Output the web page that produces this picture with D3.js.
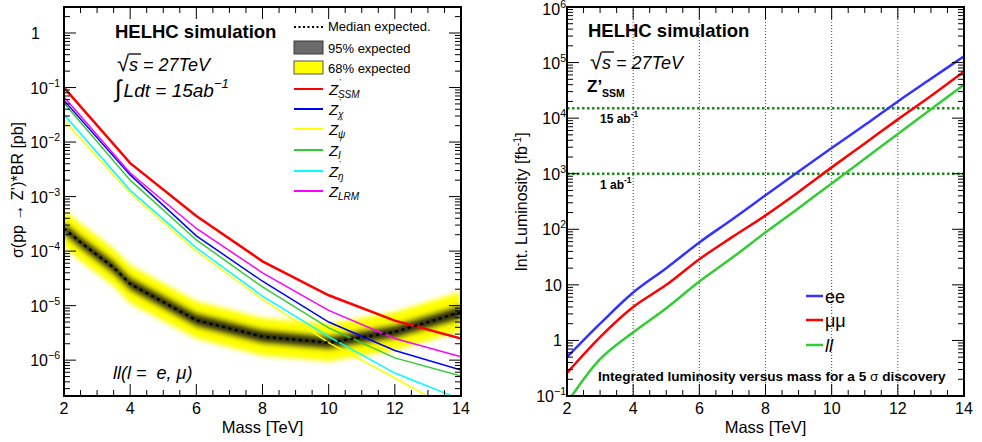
<!DOCTYPE html>
<html><head><meta charset="utf-8">
<script src="https://cdn.jsdelivr.net/npm/d3@7"></script>
<style>
body{margin:0;background:#fff}
svg{display:block}
text{font-family:"Liberation Sans",Arial,Helvetica,sans-serif;fill:#000}
</style>
</head><body>
<svg id="c" width="982" height="442"></svg>
<script>
// ---------------- DATA ----------------
// Left panel: cross-section x BR for Z' models [pb] vs mass [TeV]
const massModels = [2, 4, 6, 8, 10, 12, 14];
const zSSM = [0.1, 4.1e-3, 4.4e-4, 6.5e-5, 1.55e-5, 5.3e-6, 2.5e-6];
const zChi = [0.058, 2.5e-3, 1.9e-4, 2.8e-5, 5.0e-6, 1.5e-6, 6.6e-7];
const zPsi = [0.025, 1.15e-3, 1.0e-4, 1.3e-5, 2.1e-6, 4.7e-7, 1.0e-7];
const zI   = [0.052, 2.0e-3, 1.6e-4, 2.2e-5, 3.9e-6, 1.1e-6, 5.1e-7];
const zEta = [0.032, 1.3e-3, 1.15e-4, 1.5e-5, 2.7e-6, 5.8e-7, 1.9e-7];
const zLRM = [0.067, 2.7e-3, 2.6e-4, 4.0e-5, 8.2e-6, 2.5e-6, 1.15e-6];

// Median expected limit and bands
const massMed   = [2, 2.5, 3, 3.5, 4, 6, 8, 10, 12, 14];
const median    = [2.6e-4, 1.45e-4, 8.5e-5, 5.0e-5, 2.5e-5, 5.4e-6, 2.7e-6, 2.1e-6, 3.3e-6, 7.6e-6];
const yellowHi  = [5.7e-4, 3.2e-4, 1.9e-4, 1.1e-4, 5.5e-5, 1.2e-5, 5.9e-6, 4.6e-6, 7.6e-6, 1.8e-5];
const yellowLo  = [1.2e-4, 6.6e-5, 3.9e-5, 2.3e-5, 1.1e-5, 2.5e-6, 1.2e-6, 9.5e-7, 1.5e-6, 3.4e-6];
const darkHi    = [3.5e-4, 1.95e-4, 1.15e-4, 6.8e-5, 3.4e-5, 7.4e-6, 3.7e-6, 2.8e-6, 4.5e-6, 1.04e-5];
const darkLo    = [1.95e-4, 1.08e-4, 6.3e-5, 3.7e-5, 1.85e-5, 4.0e-6, 2.0e-6, 1.55e-6, 2.45e-6, 5.5e-6];

// Right panel: integrated luminosity for 5 sigma discovery [fb^-1]
const massLumi = [2, 3, 4, 5, 6, 7, 8, 9, 10, 11, 12, 13, 14];
const lumiEE   = [0.5, 2.0, 7.3, 20, 58, 152, 410, 1100, 2900, 7500, 2.0e4, 5.1e4, 1.3e5];
const lumiMuMu = [0.26, 1.15, 4.0, 10, 29, 73, 178, 470, 1300, 3500, 9500, 2.5e4, 6.9e4];
const lumiLL   = [0.075, 0.46, 1.4, 3.8, 11.5, 31, 88, 240, 670, 1850, 5200, 1.45e4, 4.0e4];
const lumiRefs = [15000, 1000];
const lumiRefLabels = ["15 ab", "1 ab"];

// Tick labels
const xTickVals = [2, 4, 6, 8, 10, 12, 14];
const leftYTickVals = [1, 1e-1, 1e-2, 1e-3, 1e-4, 1e-5, 1e-6];
const leftYTickBase = ["1", "10", "10", "10", "10", "10", "10"];
const leftYTickExp  = [null, "\u22121", "\u22122", "\u22123", "\u22124", "\u22125", "\u22126"];
const rightYTickVals = [0.1, 1, 10, 1e2, 1e3, 1e4, 1e5, 1e6];
const rightYTickBase = ["10", "1", "10", "10", "10", "10", "10", "10"];
const rightYTickExp  = ["\u22121", null, null, "2", "3", "4", "5", "6"];

// ---------------- DRAW ----------------
const svg = d3.select('#c');
const defs = svg.append('defs');
const f = defs.append('filter').attr('id','blur').attr('x','-5%').attr('y','-20%').attr('width','110%').attr('height','140%');
f.append('feGaussianBlur').attr('stdDeviation', 2.6);

const L = {x0:64, x1:461, y0:7, y1:396};
const R = {x0:567, x1:964, y0:7, y1:396};
defs.append('clipPath').attr('id','clipL').append('rect')
  .attr('x',L.x0).attr('y',L.y0).attr('width',L.x1-L.x0).attr('height',L.y1-L.y0);
defs.append('clipPath').attr('id','clipR').append('rect')
  .attr('x',R.x0).attr('y',R.y0).attr('width',R.x1-R.x0).attr('height',R.y1-R.y0);

const xL = d3.scaleLinear([2,14],[L.x0,L.x1]);
const yL = d3.scaleLog([2.2e-7, 3],[L.y1,L.y0]);
const xR = d3.scaleLinear([2,14],[R.x0,R.x1]);
const yR = d3.scaleLog([0.1, 1e6],[R.y1,R.y0]);

function logTicks(scale){
  const [a,b] = scale.domain();
  const out = [];
  for (let e = Math.floor(Math.log10(a)); e <= Math.ceil(Math.log10(b)); e++){
    for (let m = 1; m <= 9; m++){
      const v = m*Math.pow(10,e);
      if (v >= a*0.999 && v <= b*1.001) out.push({v, major: m===1});
    }
  }
  return out;
}

function frame(g, P, x, y){
  const xt = d3.range(2, 14.001, 0.5);
  xt.forEach(v=>{
    const major = Math.abs(v % 2) < 1e-9;
    const len = major ? 12 : 6;
    const px = x(v);
    g.append('line').attr('x1',px).attr('x2',px).attr('y1',P.y1).attr('y2',P.y1-len).attr('stroke','#000').attr('stroke-width',1);
    g.append('line').attr('x1',px).attr('x2',px).attr('y1',P.y0).attr('y2',P.y0+len).attr('stroke','#000').attr('stroke-width',1);
  });
  logTicks(y).forEach(t=>{
    const len = t.major ? 12 : 6;
    const py = y(t.v);
    g.append('line').attr('x1',P.x0).attr('x2',P.x0+len).attr('y1',py).attr('y2',py).attr('stroke','#000').attr('stroke-width',1);
    g.append('line').attr('x1',P.x1).attr('x2',P.x1-len).attr('y1',py).attr('y2',py).attr('stroke','#000').attr('stroke-width',1);
  });
  g.append('rect').attr('x',P.x0).attr('y',P.y0).attr('width',P.x1-P.x0).attr('height',P.y1-P.y0)
    .attr('fill','none').attr('stroke','#000').attr('stroke-width',2);
  xTickVals.forEach(v=>{
    g.append('text').attr('x',x(v)).attr('y',414).attr('text-anchor','middle').attr('font-size',16).text(v);
  });
  g.append('text').attr('x',(P.x0+P.x1)/2).attr('y',433).attr('text-anchor','middle').attr('font-size',16.5).text('Mass [TeV]');
}

function supLabel(g, x, y, base, sup, size){
  const t = g.append('text').attr('x',x).attr('y',y).attr('text-anchor','end').attr('font-size',size);
  t.append('tspan').text(base);
  if (sup) t.append('tspan').attr('dy',-7).attr('font-size',size*0.66).text(sup);
  return t;
}

// ================= LEFT PANEL =================
const gL = svg.append('g');
const plotL = gL.append('g').attr('clip-path','url(#clipL)');

const bandY = massMed.map((m,i)=>({m, lo:yellowLo[i], hi:yellowHi[i]}));
const bandD = massMed.map((m,i)=>({m, lo:darkLo[i], hi:darkHi[i]}));
const area = d3.area().x(d=>xL(d.m)).y0(d=>yL(d.lo)).y1(d=>yL(d.hi));
const bandG = plotL.append('g').attr('filter','url(#blur)');
bandG.append('path').datum(bandY).attr('d',area).attr('fill','#ffff00');
bandG.append('path').datum(bandD).attr('d',area).attr('fill','#1e1e08').attr('opacity',0.9);

const lineL = d3.line().x(d=>xL(d[0])).y(d=>yL(d[1]));
const models = [
  {vals:zPsi, color:'#ffff00', w:1.5, sub:'\u03c8'},
  {vals:zEta, color:'#00ffff', w:1.5, sub:'\u03b7'},
  {vals:zI,   color:'#33cc33', w:1.5, sub:'I'},
  {vals:zChi, color:'#0000ff', w:1.5, sub:'\u03c7'},
  {vals:zLRM, color:'#ff00ff', w:1.5, sub:'LRM'},
  {vals:zSSM, color:'#ff0000', w:2.5, sub:'SSM'}
];
models.forEach(mo=>{
  plotL.append('path').datum(massModels.map((m,i)=>[m, mo.vals[i]]))
    .attr('d',lineL).attr('fill','none').attr('stroke',mo.color).attr('stroke-width',mo.w);
});
plotL.append('path').datum(massMed.map((m,i)=>[m, median[i]]))
  .attr('d',lineL).attr('fill','none').attr('stroke','#000').attr('stroke-width',2.5).attr('stroke-dasharray','3,3.5');

frame(gL, L, xL, yL);
leftYTickVals.forEach((v,i)=>{
  const xx = leftYTickExp[i] ? 60 : 40;
  supLabel(gL, xx, yL(v)+6, leftYTickBase[i], leftYTickExp[i], 16);
});
gL.append('text').attr('transform','translate(23,190) rotate(-90)').attr('text-anchor','middle')
  .attr('font-size',16).text('\u03c3(pp \u2192 Z\u2019)*BR [pb]');

// texts
gL.append('text').attr('x',115).attr('y',38).attr('font-size',18.5).attr('font-weight','bold').text('HELHC simulation');
function sqrtS(g, x, y){
  const t = g.append('text').attr('x',x).attr('y',y).attr('font-size',18).attr('font-style','italic');
  t.append('tspan').attr('font-style','normal').attr('font-size',22).text('\u221a');
  t.append('tspan').text('s');
  t.append('tspan').text(' = 27TeV');
  g.append('line').attr('x1',x+12).attr('x2',x+24).attr('y1',y-17).attr('y2',y-17).attr('stroke','#000').attr('stroke-width',1.3);
}
sqrtS(gL, 117, 71);
{
  const t = gL.append('text').attr('x',115).attr('y',97).attr('font-size',19).attr('font-style','italic');
  t.append('tspan').attr('font-size',24).text('\u222b');
  t.append('tspan').attr('dx',2).text('Ldt = 15ab');
  t.append('tspan').attr('dy',-9).attr('font-size',13).text('\u22121');
}
{
  const t = gL.append('text').attr('x',113).attr('y',379).attr('font-size',18).attr('font-style','italic');
  t.attr('xml:space','preserve').text('ll(l =  e, \u03bc)');
}

// legend
const lg = gL.append('g');
lg.append('line').attr('x1',294).attr('x2',323).attr('y1',27).attr('y2',27).attr('stroke','#000').attr('stroke-width',2).attr('stroke-dasharray','2,2.5');
lg.append('text').attr('x',328).attr('y',31).attr('font-size',13).text('Median expected.');
lg.append('rect').attr('x',294).attr('y',41).attr('width',29).attr('height',13).attr('fill','#6a6a6a').attr('stroke','#3a3a3a').attr('stroke-width',1);
lg.append('text').attr('x',328).attr('y',53).attr('font-size',13).text('95% expected');
lg.append('rect').attr('x',294).attr('y',61).attr('width',29).attr('height',13).attr('fill','#ffff00').attr('stroke','#555').attr('stroke-width',1);
lg.append('text').attr('x',328).attr('y',73).attr('font-size',13).text('68% expected');
const legOrder = [5,3,0,2,1,4]; // SSM, chi, psi, I, eta, LRM
const legY = [89,109,129,150,171,191];
legOrder.forEach((k,j)=>{
  const mo = models[k];
  const y = legY[j];
  lg.append('line').attr('x1',294).attr('x2',323).attr('y1',y).attr('y2',y).attr('stroke',mo.color).attr('stroke-width',2);
  const t = lg.append('text').attr('x',329).attr('y',y+6).attr('font-size',15).attr('font-style','italic');
  t.append('tspan').text('Z');
  t.append('tspan').attr('dx',1).attr('dy',-11).attr('font-size',8).attr('font-style','normal').text('\u2019');
  t.append('tspan').attr('dx',-3).attr('dy',14).attr('font-size',10).text(mo.sub);
});

// ================= RIGHT PANEL =================
const gR = svg.append('g');
const plotR = gR.append('g').attr('clip-path','url(#clipR)');
[4,6,8,10,12].forEach(v=>{
  plotR.append('line').attr('x1',xR(v)).attr('x2',xR(v)).attr('y1',R.y0).attr('y2',R.y1)
    .attr('stroke','#333').attr('stroke-width',0.9).attr('stroke-dasharray','1,2');
});
lumiRefs.forEach((v,i)=>{
  plotR.append('line').attr('x1',R.x0).attr('x2',R.x1).attr('y1',yR(v)).attr('y2',yR(v))
    .attr('stroke','#1a8a1a').attr('stroke-width',2.5).attr('stroke-dasharray','2.5,2.5');
  const t = gR.append('text').attr('x',600).attr('y',yR(v)+15).attr('font-size',12).attr('font-weight','bold');
  t.append('tspan').text(lumiRefLabels[i]);
  t.append('tspan').attr('dy',-6).attr('font-size',8.5).text('-1');
});
const lineR = d3.line().x(d=>xR(d[0])).y(d=>yR(d[1])).curve(d3.curveCatmullRom.alpha(0.5));
const lumiSeries = [
  {vals:lumiLL, color:'#33cc33', label:'ll', it:true},
  {vals:lumiMuMu, color:'#ff0000', label:'\u03bc\u03bc', it:false},
  {vals:lumiEE, color:'#3333ff', label:'ee', it:false}
];
lumiSeries.forEach(s=>{
  plotR.append('path').datum(massLumi.map((m,i)=>[m, s.vals[i]]))
    .attr('d',lineR).attr('fill','none').attr('stroke',s.color).attr('stroke-width',2.5);
});
frame(gR, R, xR, yR);
rightYTickVals.forEach((v,i)=>{
  const xx = rightYTickExp[i] ? 566 : 562;
  const yy = i === rightYTickVals.length-1 ? yR(v)+8 : yR(v)+6;
  supLabel(gR, xx, yy, rightYTickBase[i], rightYTickExp[i], 16);
});
{
  const t = gR.append('text').attr('transform','translate(527,202) rotate(-90)').attr('text-anchor','middle').attr('font-size',16);
  t.append('tspan').text('Int. Luminosity [fb');
  t.append('tspan').attr('dy',-6).attr('font-size',10.5).text('-1');
  t.append('tspan').attr('dy',6).text(']');
}
gR.append('text').attr('x',588).attr('y',37).attr('font-size',18.5).attr('font-weight','bold').text('HELHC simulation');
sqrtS(gR, 590, 69);
{
  const t = gR.append('text').attr('x',587).attr('y',92).attr('font-size',17).attr('font-weight','bold');
  t.append('tspan').text('Z\u2019');
  t.append('tspan').attr('dy',5).attr('font-size',10.5).text('SSM');
}
// legend right
const legRY = [296, 320, 345];
[2,1,0].forEach((k,j)=>{
  const s = lumiSeries[k];
  gR.append('line').attr('x1',806).attr('x2',823).attr('y1',legRY[j]).attr('y2',legRY[j]).attr('stroke',s.color).attr('stroke-width',2.5);
  gR.append('text').attr('x',825).attr('y',legRY[j]+7).attr('font-size',18)
    .attr('font-style', s.it ? 'italic' : 'normal').text(s.label);
});
{
  const t = gR.append('text').attr('x',598).attr('y',381).attr('font-size',13.6).attr('font-weight','bold');
  t.append('tspan').text('Integrated luminosity versus mass for a 5 ');
  t.append('tspan').attr('font-weight','normal').text('\u03c3');
  t.append('tspan').text(' discovery');
}
</script>
</body></html>
